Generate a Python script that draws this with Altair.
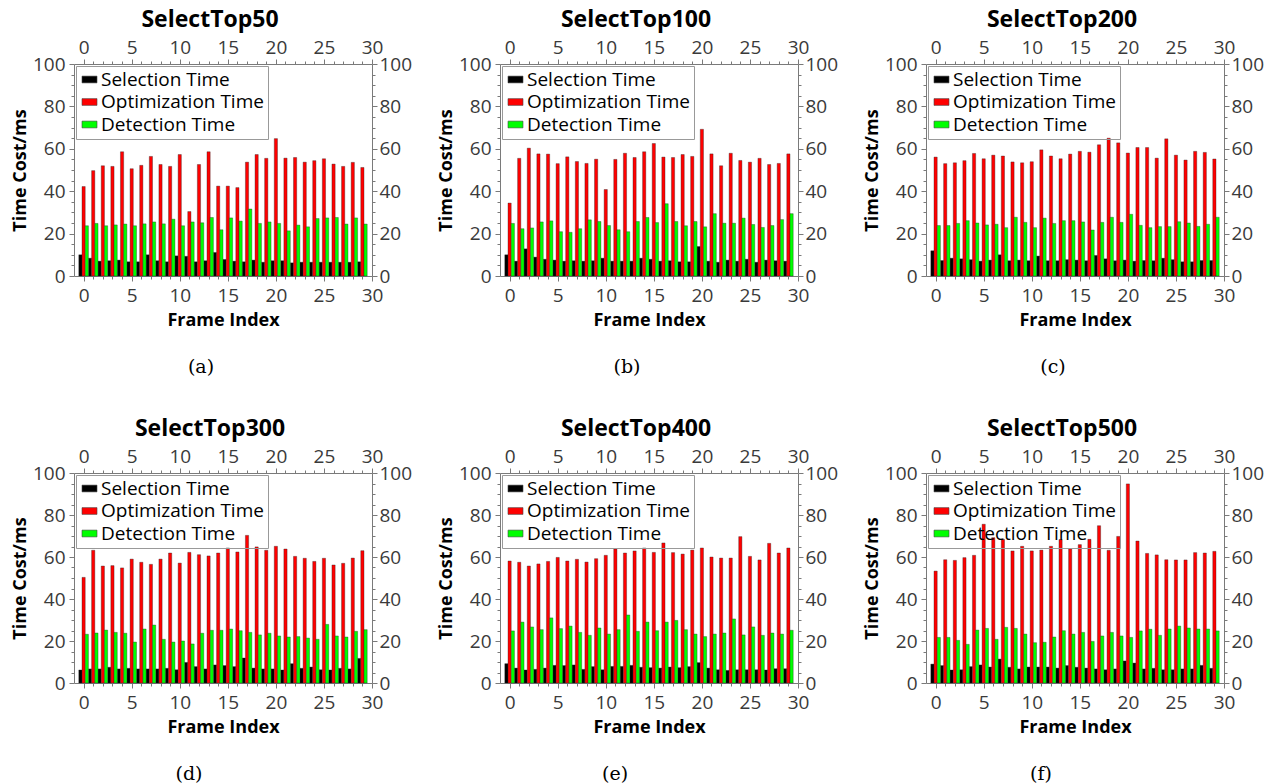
import altair as alt
import pandas as pd

frames = list(range(30))
series_names = ["Selection Time", "Optimization Time", "Detection Time"]
series_colors = ["#000000", "#ff0000", "#00ff00"]
panel_titles = ["SelectTop50", "SelectTop100", "SelectTop200",
                "SelectTop300", "SelectTop400", "SelectTop500"]
captions = ["(a)", "(b)", "(c)", "(d)", "(e)", "(f)"]

sel_a = [10, 8.4, 7.0, 7.2, 7.5, 6.7, 6.7, 10.0, 7.2, 6.7, 9.5, 9.3, 6.7, 7.2, 11.1, 7.8, 7.0, 6.7, 7.5, 6.5, 7.2, 7.2, 6.2, 6.5, 6.5, 6.5, 6.5, 6.5, 6.5, 6.7]
opt_a = [42.2, 49.7, 52.0, 51.7, 58.6, 50.6, 52.2, 56.4, 52.6, 51.7, 57.3, 30.4, 52.6, 58.6, 42.4, 42.4, 41.7, 53.7, 57.3, 55.5, 64.8, 55.6, 55.9, 53.7, 54.4, 55.3, 52.8, 51.7, 53.6, 51.2]
det_a = [23.7, 24.8, 23.7, 24.1, 24.5, 23.7, 24.6, 25.5, 24.6, 26.8, 23.7, 25.5, 25.1, 27.6, 21.8, 27.4, 25.9, 31.6, 24.8, 25.5, 24.8, 21.3, 24.0, 23.2, 27.1, 27.4, 27.6, 24.5, 27.4, 24.5]

sel_b = [10, 7.0, 12.8, 8.9, 7.9, 7.5, 7.0, 7.2, 7.0, 7.2, 8.4, 7.0, 7.0, 7.0, 8.4, 7.9, 7.0, 7.2, 6.7, 6.7, 13.9, 7.0, 6.5, 7.5, 7.0, 7.9, 6.5, 7.5, 7.2, 7.0]
opt_b = [34.4, 55.5, 60.3, 57.6, 57.5, 53.0, 56.2, 54.0, 53.1, 55.1, 40.8, 55.0, 57.9, 55.9, 58.6, 62.5, 56.1, 55.9, 57.3, 56.4, 69.2, 57.6, 52.0, 57.9, 54.5, 53.7, 55.5, 52.6, 53.1, 57.6]
det_b = [24.8, 22.3, 22.7, 25.5, 26.0, 20.9, 20.6, 22.3, 26.5, 25.7, 23.8, 21.8, 20.9, 25.7, 27.6, 25.2, 34.1, 25.7, 23.7, 25.7, 23.2, 29.4, 24.9, 24.9, 27.3, 24.3, 22.9, 23.8, 26.6, 29.4]

sel_c = [11.9, 7.3, 8.4, 8.1, 7.7, 7.0, 7.5, 10.0, 7.2, 7.5, 7.2, 9.4, 7.2, 7.2, 7.7, 7.5, 7.2, 9.7, 8.1, 7.2, 7.5, 7.0, 7.3, 7.2, 8.4, 7.7, 6.7, 6.7, 7.3, 7.3]
opt_c = [56.1, 53.0, 53.4, 54.4, 57.8, 55.3, 57.0, 56.6, 53.8, 53.4, 53.9, 59.5, 56.6, 55.3, 57.5, 58.8, 58.4, 61.9, 65.0, 62.8, 58.0, 60.6, 60.6, 55.6, 64.7, 57.0, 54.7, 58.8, 58.3, 55.2]
det_c = [23.8, 23.8, 24.8, 26.1, 25.0, 24.1, 24.4, 22.8, 27.7, 25.3, 22.8, 27.3, 24.8, 26.1, 26.1, 25.5, 21.7, 25.3, 27.7, 25.3, 29.1, 23.9, 22.8, 23.3, 23.3, 25.6, 25.0, 23.4, 24.4, 27.7]

sel_d = [6.2, 6.7, 6.7, 7.5, 6.7, 7.0, 6.7, 6.7, 6.7, 7.0, 6.3, 9.8, 7.8, 6.7, 8.6, 8.3, 7.8, 11.9, 7.1, 6.7, 6.7, 6.2, 9.2, 7.0, 7.6, 6.3, 6.2, 7.0, 6.7, 11.7]
opt_d = [50.3, 63.2, 55.7, 55.9, 54.8, 59.0, 57.5, 56.5, 59.0, 61.9, 57.1, 62.2, 61.1, 60.5, 61.9, 64.3, 62.4, 70.3, 64.8, 63.2, 65.1, 63.8, 60.3, 59.4, 57.9, 59.4, 56.2, 57.0, 59.5, 63.0]
det_d = [23.2, 23.8, 25.2, 24.1, 23.7, 19.5, 25.7, 27.6, 20.8, 19.5, 20.0, 18.6, 23.7, 25.1, 25.1, 25.7, 24.9, 24.1, 22.9, 23.7, 22.4, 21.9, 22.1, 21.4, 20.8, 27.9, 22.4, 21.9, 24.6, 25.4]

sel_e = [9.2, 7.1, 6.2, 6.5, 7.1, 8.4, 8.3, 8.6, 6.5, 7.8, 6.3, 7.9, 7.9, 8.4, 7.5, 7.3, 7.1, 7.6, 7.3, 7.8, 9.7, 7.1, 6.3, 6.0, 6.3, 6.3, 6.3, 6.2, 6.8, 6.8]
opt_e = [58.1, 57.5, 55.7, 56.7, 57.9, 59.8, 58.1, 58.9, 57.6, 59.2, 60.8, 63.8, 61.9, 62.9, 64.3, 62.2, 66.7, 62.1, 61.4, 63.3, 64.3, 60.0, 59.5, 59.5, 69.7, 60.3, 58.6, 66.5, 61.9, 64.3]
det_e = [24.8, 29.0, 26.7, 25.4, 31.0, 25.9, 27.1, 24.1, 22.7, 26.2, 23.3, 25.4, 32.4, 24.6, 29.0, 24.9, 29.0, 29.8, 25.4, 23.3, 22.1, 23.3, 23.8, 30.5, 22.9, 26.7, 22.7, 23.8, 23.3, 25.1]

sel_f = [9.0, 8.3, 6.2, 6.3, 7.8, 8.6, 7.6, 11.4, 7.5, 6.7, 7.6, 7.6, 7.6, 7.1, 8.3, 7.5, 7.1, 6.7, 6.3, 6.7, 10.5, 9.5, 6.7, 7.0, 6.3, 6.3, 6.7, 6.7, 8.4, 7.0]
opt_f = [53.3, 58.7, 58.4, 59.7, 60.8, 75.6, 69.2, 68.4, 62.9, 65.1, 62.9, 63.3, 65.1, 68.3, 64.0, 65.9, 68.4, 74.9, 63.2, 69.8, 94.8, 67.6, 61.7, 61.0, 58.7, 58.6, 58.6, 62.1, 61.9, 62.7]
det_f = [21.7, 21.7, 20.3, 18.4, 25.2, 26.0, 20.8, 26.5, 26.0, 23.3, 19.2, 19.4, 21.9, 24.9, 23.3, 24.1, 19.8, 22.4, 24.1, 22.4, 21.7, 24.8, 25.6, 22.7, 25.7, 27.1, 26.2, 25.7, 25.7, 24.8]

panel_data = [
    (sel_a, opt_a, det_a), (sel_b, opt_b, det_b), (sel_c, opt_c, det_c),
    (sel_d, opt_d, det_d), (sel_e, opt_e, det_e), (sel_f, opt_f, det_f),
]

FONT = "Open Sans"
W = 298
GRAY = "#7a7a7a"

xscale = alt.Scale(domain=[-1, 30], nice=False, zero=False)
yscale = alt.Scale(domain=[0, 100], nice=False, zero=True)

x_tick_size = {"condition": {"test": "datum.value % 5 === 0", "value": 5}, "value": 3}
y_tick_size = {"condition": {"test": "datum.value % 20 === 0", "value": 5}, "value": 3}
x_vals = list(range(0, 31))
y_vals = list(range(0, 101, 5))
x_lab = "datum.value % 5 === 0 ? datum.label : ''"
y_lab = "datum.value % 20 === 0 ? datum.label : ''"


def panel(idx):
    H = 212 if idx < 3 else 210
    sel, opt, det = panel_data[idx]
    rows = []
    for k, (name, vals) in enumerate(zip(series_names, [sel, opt, det])):
        for f, v in zip(frames, vals):
            rows.append({"frame": f, "series": name, "k": k, "value": v})
    df = pd.DataFrame(rows)
    base = alt.Chart(df).transform_calculate(
        x0="datum.frame + (datum.k - 1) / 3 - 1 / 6",
        x1="datum.frame + (datum.k - 1) / 3 + 1 / 6",
        base0="0",
    )
    common = dict(labelOverlap=False, labelFlush=False, grid=False)
    bottom_axis = alt.Axis(orient="bottom", values=x_vals, labelExpr=x_lab, tickSize=x_tick_size,
                           labelPadding=5, title="Frame Index", titlePadding=6, **common)
    left_axis = alt.Axis(orient="left", values=y_vals, labelExpr=y_lab, tickSize=y_tick_size,
                         labelPadding=4, title="Time Cost/ms", titlePadding=3, **common)
    top_axis = alt.Axis(orient="top", values=x_vals, labelExpr=x_lab, tickSize=x_tick_size,
                        labelPadding=2, title=None, **common)
    right_axis = alt.Axis(orient="right", values=y_vals, labelExpr=y_lab, tickSize=y_tick_size,
                          labelPadding=2, title=None, **common)
    legend = alt.Legend(
        orient="top-left", offset=2, title=None, labelFont=FONT, labelFontSize=19,
        labelColor="black", symbolType="M-1,-0.45H1V0.45H-1Z", symbolSize=225,
        symbolStrokeColor="#444444", symbolStrokeWidth=0.6, symbolOpacity=1,
        strokeColor="#999999", padding=4, rowPadding=2.5, labelOffset=2,
    )
    bars = base.mark_bar(stroke="#222222", strokeWidth=0.6, strokeOpacity=0.6).encode(
        x=alt.X("x0:Q", scale=xscale, axis=bottom_axis),
        x2="x1:Q",
        y=alt.Y("value:Q", scale=yscale, axis=left_axis),
        y2="base0:Q",
        color=alt.Color("series:N", sort=series_names,
                        scale=alt.Scale(domain=series_names, range=series_colors),
                        legend=legend),
    )
    axes2 = base.mark_bar(opacity=0).encode(
        x=alt.X("x0:Q", scale=xscale, axis=top_axis),
        x2="x1:Q",
        y=alt.Y("value:Q", scale=yscale, axis=right_axis),
        y2="base0:Q",
    )
    cap_x = 127 if idx < 3 else 115
    cap = alt.Chart(pd.DataFrame({"caption": [captions[idx]]})).mark_text(
        font="DejaVu Serif", fontSize=19, align="center", baseline="middle", color="black"
    ).encode(text="caption:N", x=alt.value(cap_x), y=alt.value(H + 91))
    return alt.layer(bars, axes2, cap).resolve_axis(x="independent", y="independent").properties(
        width=W, height=H,
        title=alt.TitleParams(panel_titles[idx], font=FONT, fontSize=23, fontWeight="bold",
                              color="black", anchor="middle", dx=-13, offset=6),
    )


chart = alt.concat(
    *[panel(i) for i in range(6)], columns=3,
    spacing={"row": 197, "column": 128}, bounds="flush",
).resolve_scale(color="independent").resolve_legend(color="independent").properties(
    padding={"left": 3, "top": 1, "right": 0, "bottom": 0}
).configure_view(stroke=None).configure_axis(
    domainColor=GRAY, tickColor=GRAY, labelColor="#3a3a3a", labelFont=FONT, labelFontSize=19,
    titleFont=FONT, titleFontSize=18, titleFontWeight="bold", titleColor="black",
    domainWidth=1, tickWidth=1,
).configure_legend(labelLimit=400)

chart.save("out.html", embed_options={"renderer": "svg", "actions": False})
